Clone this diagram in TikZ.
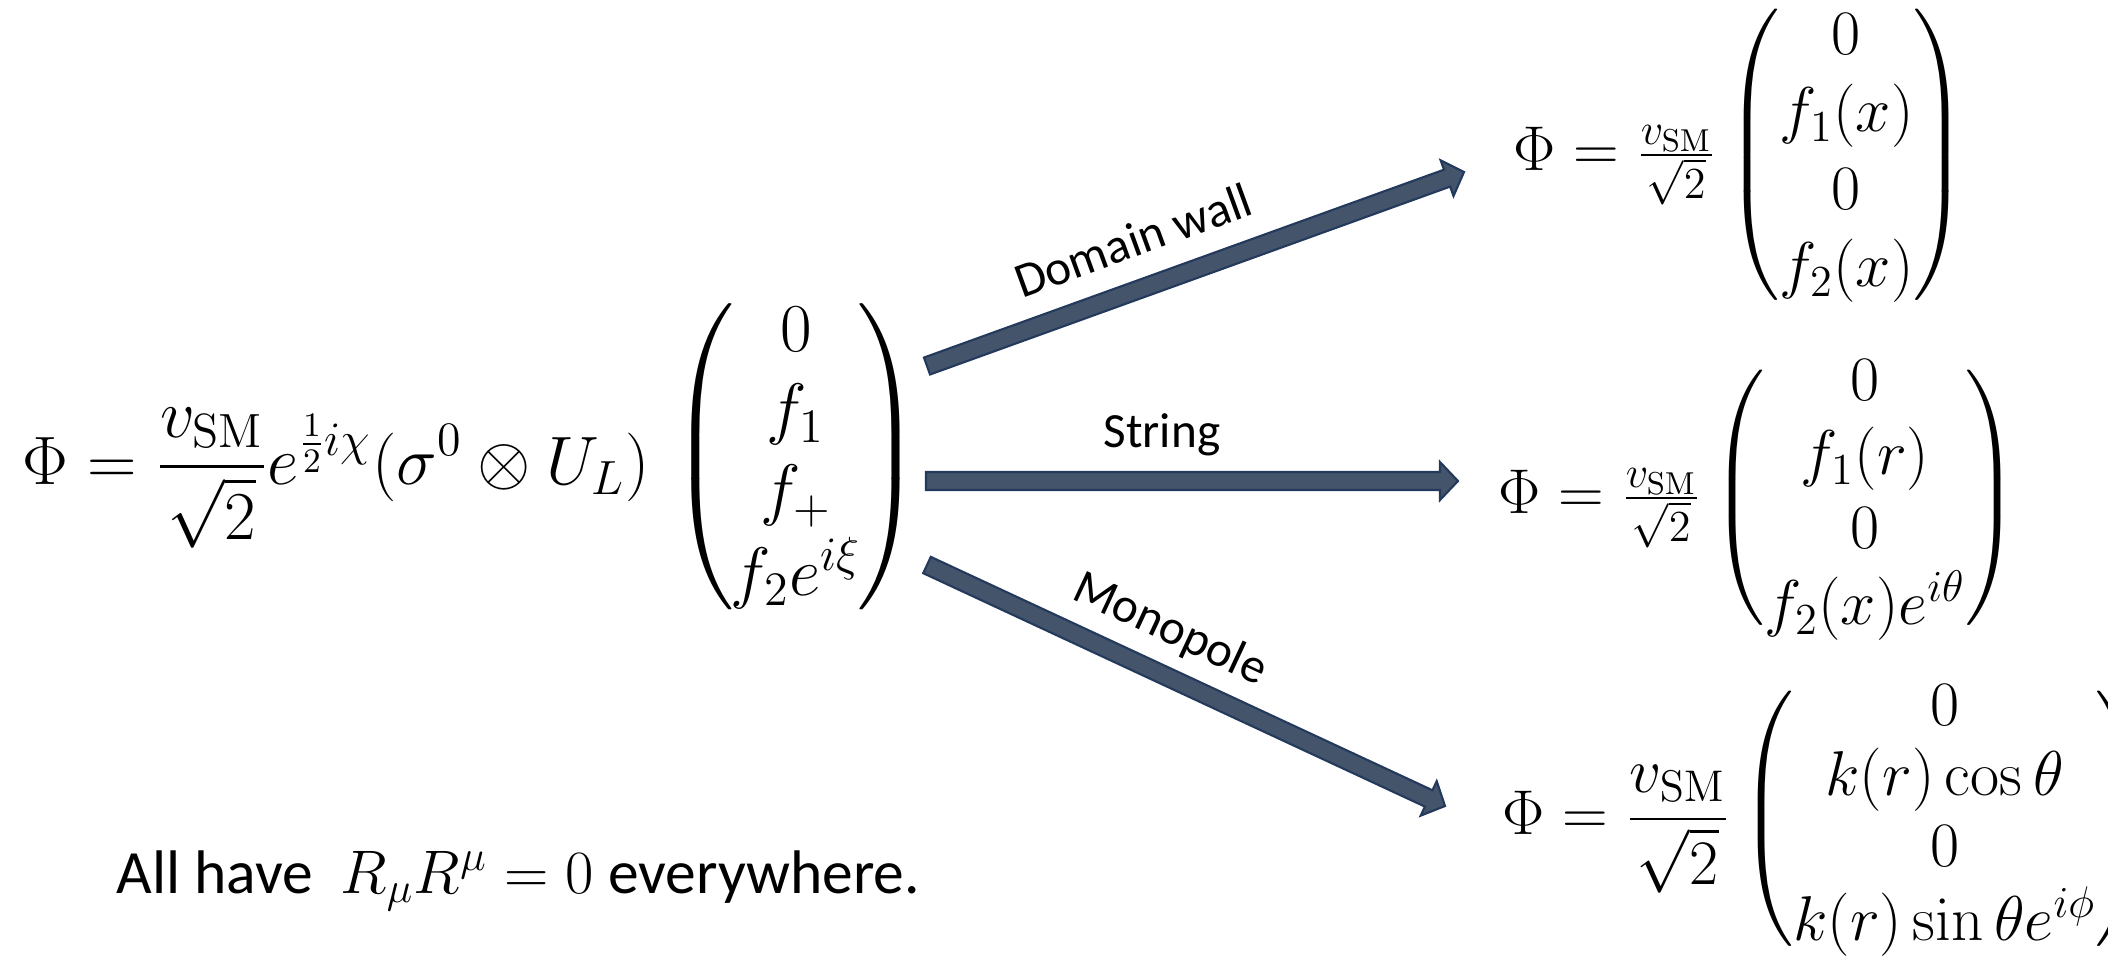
\documentclass[tikz,border=0pt]{standalone}
\usepackage{fix-cm}
\usepackage{amsmath}
\usepackage[no-math]{fontspec}
\newfontfamily\calibri{Carlito}
\usetikzlibrary{calc}

\definecolor{arrowfill}{HTML}{44546A}
\definecolor{arrowline}{HTML}{243A5C}

\delimiterfactor=850
\delimitershortfall=15pt

\begin{document}
\begin{tikzpicture}[x=0.01cm, y=-0.01cm,
    eqn/.style={inner sep=0pt, anchor=west},
    lbl/.style={inner sep=0pt, font=\calibri\fontsize{14}{17}\selectfont},
    blockarrow/.style={fill=arrowfill, draw=arrowline, line width=0.6pt, line join=miter}]
      \def\shaft{0.09cm}
      \def\headw{0.19cm}
      \def\headl{0.18cm}
      \def\blockarrow#1#2{%
        \draw[blockarrow] ($(#1)!\shaft!90:(#2)$)
          -- ($(#2)!\headl!(#1)!\shaft!90:(#2)$)
          -- ($(#2)!\headl!(#1)!\headw!90:(#2)$)
          -- (#2)
          -- ($(#2)!\headl!(#1)!\headw!-90:(#2)$)
          -- ($(#2)!\headl!(#1)!\shaft!-90:(#2)$)
          -- ($(#1)!\shaft!-90:(#2)$) -- cycle;}

      \useasboundingbox (0,0) rectangle (2108,956);

      % general solution
      \node[inner sep=0pt, anchor=base west, font=\fontsize{19.5}{23}\selectfont] (lhs) at (22,484)
        {$\displaystyle\Phi = \frac{v_{\mathrm{SM}}}{\sqrt{2}}e^{\frac{1}{2}i\chi}(\sigma^0\otimes U_L)$};
      \node[inner sep=0pt, font=\fontsize{19.5}{23}\selectfont] (vec) at (796,457)
        {$\left(\mkern-1mu\begin{matrix}0\\ f_1\\ f_+\\ f_2e^{i\xi}\end{matrix}\mkern-1mu\right)$};

      % the three defects
      \node[eqn, font=\fontsize{18}{22}\selectfont] (wall) at (1513,155)
        {$\Phi = \frac{v_{\mathrm{SM}}}{\sqrt{2}}
          \begin{pmatrix}0\\ f_1(x)\\ 0\\ f_2(x)\end{pmatrix}$};
      \node[eqn, font=\fontsize{18}{21}\selectfont] (string) at (1498,498)
        {$\Phi = \frac{v_{\mathrm{SM}}}{\sqrt{2}}
          \begin{pmatrix}0\\ f_1(r)\\ 0\\ f_2(x)e^{i\theta}\end{pmatrix}$};
      \node[eqn, font=\fontsize{18}{20}\selectfont] (mono) at (1502,819)
        {$\Phi = \dfrac{v_{\mathrm{SM}}}{\sqrt{2}}
          \begin{pmatrix}0\\ k(r)\cos\theta\\ 0\\ k(r)\sin\theta e^{i\phi}\end{pmatrix}$};

      \coordinate (wallS) at (927,366);
      \coordinate (wallE) at (1464,172);
      \coordinate (stringS) at (926,481);
      \coordinate (stringE) at (1458,481);
      \coordinate (monoS) at (927,565);
      \coordinate (monoE) at (1445,806);

      \blockarrow{wallS}{wallE}
      \blockarrow{stringS}{stringE}
      \blockarrow{monoS}{monoE}

      \node[lbl, rotate=20] (walllbl) at (1133,240) {Domain wall};
      \node[lbl] (stringlbl) at (1162,435) {String};
      \node[lbl, rotate=-25] (monolbl) at (1170,630) {Monopole};

      \node[inner sep=0pt, anchor=base west, font=\calibri\fontsize{17.5}{21}\selectfont] (note) at (116,893)
        {All have \ $R_\mu R^\mu = 0$ everywhere.};

    \end{tikzpicture}
\end{document}
